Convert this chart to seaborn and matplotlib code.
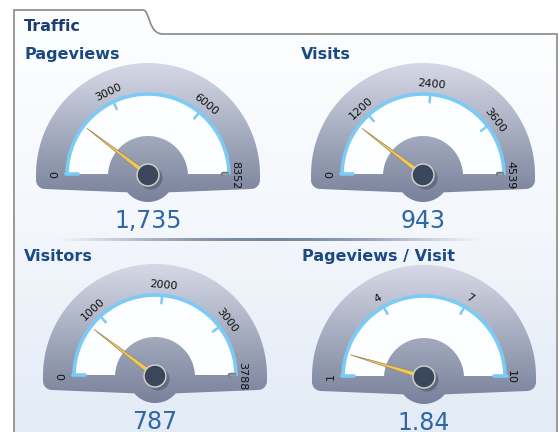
import matplotlib
matplotlib.use('Agg')
import numpy as np
import matplotlib.pyplot as plt
from matplotlib.path import Path
from matplotlib.patches import Polygon, Circle, PathPatch
import seaborn as sns

sns.set_style("white")
plt.rcParams['font.family'] = ['DejaVu Sans']

# -------------------------
# Data
# -------------------------
panel_title = "Traffic"
gauge_titles = ["Pageviews", "Visits", "Visitors", "Pageviews / Visit"]
gauge_min = [0, 0, 0, 1]
gauge_max = [8352, 4539, 3788, 10]
gauge_ticks = [[3000, 6000], [1200, 2400, 3600], [1000, 2000, 3000], [4, 7]]
gauge_values = [1735, 943, 787, 1.84]
value_labels = ["1,735", "943", "787", "1.84"]

# -------------------------
# Layout (pixel space, y down)
# -------------------------
centers = [(148, 175), (423, 175), (155, 376), (424, 377)]
title_pos = [(25, 59), (301, 59), (24, 261), (302, 261)]

W, H = 560, 432
R_BODY = 112
R_WHITE = 80
R_ARC = 81
R_HUB = 40

BLUE = "#7ccaf6"
TITLE_C = "#1b4a82"
VALUE_C = "#2e66a6"

body_cmap = sns.blend_palette(["#d6d8e6", "#b6bccd", "#959db2", "#78819a"], n_colors=128, as_cmap=True)
panel_cmap = sns.blend_palette(["#fdfeff", "#f4f7fc", "#e3ebf6"], n_colors=128, as_cmap=True)

fig = plt.figure(figsize=(W / 100, H / 100), dpi=100)
ax = fig.add_axes([0, 0, 1, 1])
grad = np.linspace(0, 1, 256).reshape(-1, 1)


def pt(cx, cy, r, phi):
    return cx + r * np.cos(phi), cy - r * np.sin(phi)


def gradient_fill(poly_pts, cmap, extent, z):
    clip = Polygon(poly_pts, closed=True, transform=ax.transData)
    im = ax.imshow(grad, cmap=cmap, extent=extent, aspect='auto',
                   interpolation='bicubic', zorder=z)
    im.set_clip_path(clip)


def body_outline(cx, cy, R=R_BODY):
    t = np.linspace(0, np.pi, 120)
    top = np.column_stack([cx + R * np.cos(t), cy - R * np.sin(t)])
    a = np.linspace(np.pi, np.pi / 2, 12)
    lc = np.column_stack([cx - R + 9 + 9 * np.cos(a), cy + 5 + 9 * np.sin(a)])
    b = np.radians(np.linspace(140, 40, 40))
    bump = np.column_stack([cx + 27 * np.cos(b), cy + 27 * np.sin(b)])
    a = np.linspace(np.pi / 2, 0, 12)
    rc = np.column_stack([cx + R - 9 + 9 * np.cos(a), cy + 5 + 9 * np.sin(a)])
    return np.vstack([top, lc, bump, rc])


def half_disc(cx, cy, r, y_off=0):
    t = np.linspace(0, np.pi, 120)
    return np.column_stack([cx + r * np.cos(t), cy + y_off - r * np.sin(t)])


# -------------------------
# Panel background + border
# -------------------------
verts = [(14, H), (14, 10), (143, 10), (150, 10), (148, 34), (163, 34), (557, 34), (557, H)]
codes = [Path.MOVETO, Path.LINETO, Path.LINETO, Path.CURVE4, Path.CURVE4, Path.CURVE4,
         Path.LINETO, Path.LINETO]
panel_path = Path(verts, codes)
clip_patch = PathPatch(panel_path, transform=ax.transData)
im = ax.imshow(grad, cmap=panel_cmap, extent=(14, 557, H, 10), aspect='auto', zorder=0)
im.set_clip_path(clip_patch)
ax.add_patch(PathPatch(panel_path, fill=False, ec="#8a8a8a", lw=1.2, zorder=1))

ax.text(24, 31, panel_title, fontsize=11.5, fontweight='bold', color="#1c3d75",
        ha='left', va='baseline', zorder=5)

# separator
sep = np.zeros((1, 300, 4))
sep[..., :3] = matplotlib.colors.to_rgb("#7886a0")
sep[0, :, 3] = np.sin(np.linspace(0, np.pi, 300)) ** 1.2
ax.imshow(sep, extent=(55, 485, 241.5, 238.5), aspect='auto', zorder=2)

# -------------------------
# Gauges
# -------------------------
for i in range(4):
    cx, cy = centers[i]
    vmin, vmax = gauge_min[i], gauge_max[i]

    def phi_of(v):
        return np.pi * (1 - (v - vmin) / (vmax - vmin))

    # body
    gradient_fill(body_outline(cx, cy), body_cmap, (cx - R_BODY, cx + R_BODY, cy + 28, cy - R_BODY), 2)
    # white dial face
    ax.add_patch(Polygon(half_disc(cx, cy, R_WHITE, -1), closed=True, fc="#fdfeff", ec='none', zorder=3))
    # hub plate
    gradient_fill(half_disc(cx, cy, R_HUB, 1), body_cmap, (cx - R_BODY, cx + R_BODY, cy + 28, cy - R_BODY), 4)

    # blue scale arc
    t = np.linspace(0, np.pi, 150)
    ax.plot(cx + R_ARC * np.cos(t), cy - R_ARC * np.sin(t), color=BLUE, lw=2.6,
            solid_capstyle='butt', zorder=5)
    ax.plot([cx - R_ARC - 1.5, cx - R_ARC + 11], [cy - 1, cy - 1], color=BLUE, lw=2.6, zorder=5)
    if isinstance(vmax, int) and vmax <= 10:
        ax.plot([cx + R_ARC + 1.5, cx + R_ARC - 11], [cy - 1, cy - 1], color=BLUE, lw=2.6, zorder=5)
    else:
        ax.plot([cx + R_ARC - 6, cx + R_ARC - 2], [cy - 1, cy - 1], color="#6f757e", lw=3.2,
                solid_capstyle='round', zorder=5)
        ax.plot([cx + R_ARC - 6, cx + R_ARC - 2], [cy - 1, cy - 1], color="#9a9fa6", lw=1.8,
                solid_capstyle='round', zorder=5)

    # major ticks and labels
    for tv in gauge_ticks[i]:
        p = phi_of(tv)
        x0, y0 = pt(cx, cy, R_ARC - 8, p)
        x1, y1 = pt(cx, cy, R_ARC, p)
        ax.plot([x0, x1], [y0, y1], color=BLUE, lw=1.8, zorder=5)
        lx, ly = pt(cx, cy, 91, p)
        ax.text(lx, ly, f"{tv}", fontsize=8, color="#111111", rotation=np.degrees(p) - 90,
                rotation_mode='anchor', ha='center', va='center', zorder=6)
    ax.text(cx - 93, cy, f"{vmin}", fontsize=8, color="#111111", rotation=90,
            rotation_mode='anchor', ha='center', va='center', zorder=6)
    ax.text(cx + 87, cy, f"{vmax}", fontsize=8, color="#111111", rotation=-90,
            rotation_mode='anchor', ha='center', va='center', zorder=6)

    # needle
    p = phi_of(gauge_values[i])
    tip = pt(cx, cy, 77, p)
    nx, ny = -np.sin(p), -np.cos(p)
    needle = [tip, (cx + 2.6 * nx, cy + 2.6 * ny), (cx - 2.6 * nx, cy - 2.6 * ny)]
    ax.add_patch(Polygon(needle, closed=True, fc="#f0c95e", ec="#9c8650", lw=0.5, zorder=7))

    # knob
    ax.add_patch(Circle((cx + 3, cy + 3), 11.5, fc="#5c667c", ec='none', alpha=0.85, zorder=8))
    ax.add_patch(Circle((cx, cy), 11, fc="#3a465c", ec="#cfcfc6", lw=1.1, zorder=9))

    # value and title
    ax.text(cx, cy + 46, value_labels[i], fontsize=17, color=VALUE_C, ha='center',
            va='center', zorder=6)
    tx, ty = title_pos[i]
    ax.text(tx, ty, gauge_titles[i], fontsize=11.5, fontweight='bold', color=TITLE_C,
            ha='left', va='baseline', zorder=6)

ax.set_xlim(0, W)
ax.set_ylim(H, 0)
ax.set_aspect('auto')
ax.axis('off')

fig.savefig("out.png", dpi=100, facecolor='white')
plt.close(fig)
